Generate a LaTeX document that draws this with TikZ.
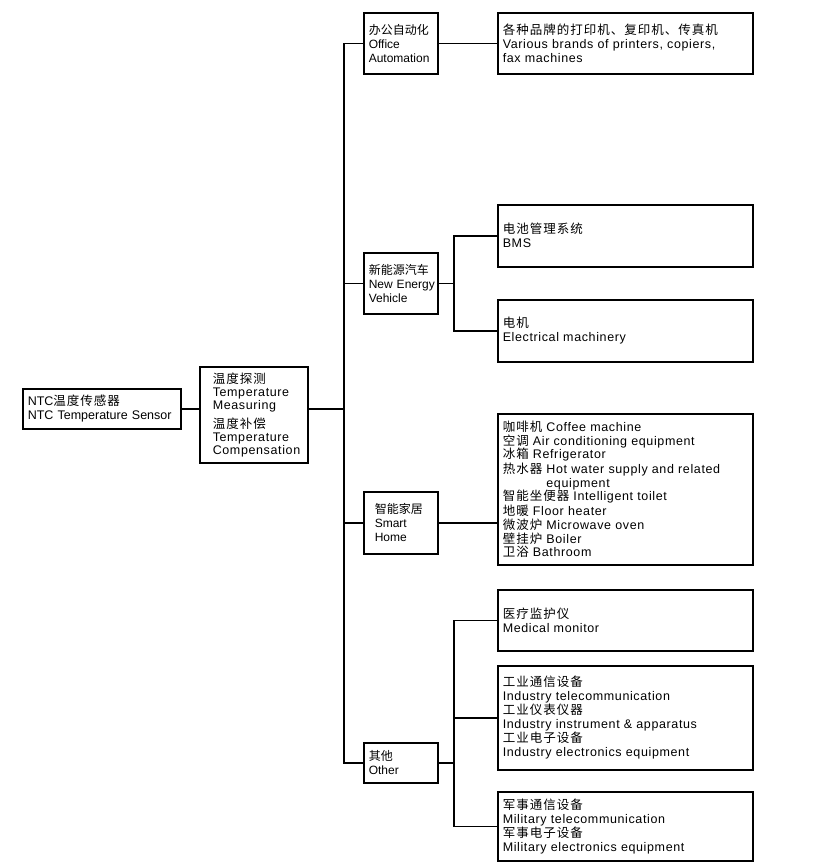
\documentclass[tikz,border=0pt]{standalone}
\usepackage{fontspec}
\setmainfont[LetterSpace=5]{Liberation Sans}
\newfontfamily\latn{Liberation Sans}
\newfontfamily\cjk[LetterSpace=8]{Noto Sans CJK SC}
\newfontfamily\cjkn{Noto Sans CJK SC}
\newcommand\zh[1]{{\cjk #1}}
\newcommand\zhn[1]{{\cjkn #1}}
\newcommand\nohy{\hyphenpenalty=10000\relax\lefthyphenmin=62\relax}
\tikzset{
  box/.style={draw, rectangle, anchor=north west, align=left, inner ysep=0pt, inner xsep=5pt,
    font=\fontsize{12.5}{14}\selectfont, execute at begin node=\nohy},
  lvl/.style={box, text width=64pt, minimum height=61pt, font=\latn\fontsize{12}{14}\selectfont},
  rbox/.style={box, text width=245pt},
  conn/.style={line width=1.5pt}
}
\begin{document}
\begin{tikzpicture}[x=1pt, y=-1pt, line width=1.5pt]
\fill[white] (0,0) rectangle (825,865);
\useasboundingbox (0,0) rectangle (825,865);

% level 0 and 1
\node[box, text width=148pt, minimum height=40pt, font=\latn\fontsize{12.5}{14}\selectfont] (ntc) at (22,388)
  {NTC\zh{温度传感器}\\NTC~Temperature~Sensor};
\node[box, inner xsep=13pt, text width=82pt, minimum height=96pt, font=\fontsize{12.5}{13}\selectfont] (temp) at (199,366)
  {\zh{温度探测}\\Temperature\\Measuring\\[5pt]\zh{温度补偿}\\Temperature\\Compensation};

% level 2
\node[lvl] (office) at (363,12) {\zhn{办公自动化}\\Office\\Automation};
\node[lvl] (nev) at (363,252) {\zhn{新能源汽车}\\New~Energy\\Vehicle};
\node[lvl, inner xsep=11pt, text width=52pt, minimum height=62pt] (smart) at (363,491) {\zhn{智能家居}\\Smart\\Home};
\node[lvl, minimum height=40pt] (other) at (363,742) {\zhn{其他}\\Other};

% level 3
\node[rbox, minimum height=61pt] (officeR) at (497,12)
  {\zh{各种品牌的打印机、复印机、传真机}\\Various brands of printers, copiers,\\fax machines};
\node[rbox, minimum height=62pt] (bms) at (497,204) {\zh{电池管理系统}\\BMS};
\node[rbox, minimum height=62pt] (elec) at (497,299) {\zh{电机}\\Electrical machinery};
\node[rbox, minimum height=151pt] (home) at (497,413)
  {\zh{咖啡机} Coffee machine\\
   \zh{空调} Air conditioning equipment\\
   \zh{冰箱} Refrigerator\\
   \zh{热水器} Hot water supply and related\\
   \phantom{\zh{热水器} }equipment\\
   \zh{智能坐便器} Intelligent toilet\\
   \zh{地暖} Floor heater\\
   \zh{微波炉} Microwave oven\\
   \zh{壁挂炉} Boiler\\
   \zh{卫浴} Bathroom};
\node[rbox, minimum height=61pt] (med) at (497,589) {\zh{医疗监护仪}\\Medical monitor};
\node[rbox, minimum height=104pt] (ind) at (497,665)
  {\zh{工业通信设备}\\Industry telecommunication\\\zh{工业仪表仪器}\\Industry instrument \& apparatus\\\zh{工业电子设备}\\Industry electronics equipment};
\node[rbox, minimum height=69pt] (mil) at (497,791)
  {\zh{军事通信设备}\\Military telecommunication\\\zh{军事电子设备}\\Military electronics equipment};

% junction coordinates
\coordinate (tk) at (344,0);
\coordinate (sa) at (454,0);
\coordinate (sb) at (454,0);

% connectors
\draw[conn] (ntc.east) -- (ntc.east -| temp.west);
\draw[conn] (temp.east |- ntc.east) -- (tk |- ntc.east);
\draw[conn] (office.west) -- (tk |- office.west) -- (tk |- other.west) -- (other.west);
\draw[conn] (tk |- nev.west) -- (nev.west);
\draw[conn] (tk |- smart.west) -- (smart.west);
\draw[conn] (office.east) -- (officeR.west);
\draw[conn] (nev.east) -- (sa |- nev.east);
\draw[conn] (bms.west) -- (sa |- bms.west) -- (sa |- elec.west) -- (elec.west);
\draw[conn] (smart.east) -- (smart.east -| home.west);
\draw[conn] (other.east) -- (sb |- other.east);
\draw[conn] (med.west) -- (sb |- med.west) -- (sb |- mil.west) -- (mil.west);
\draw[conn] (sb |- ind.west) -- (ind.west);
\end{tikzpicture}
\end{document}
